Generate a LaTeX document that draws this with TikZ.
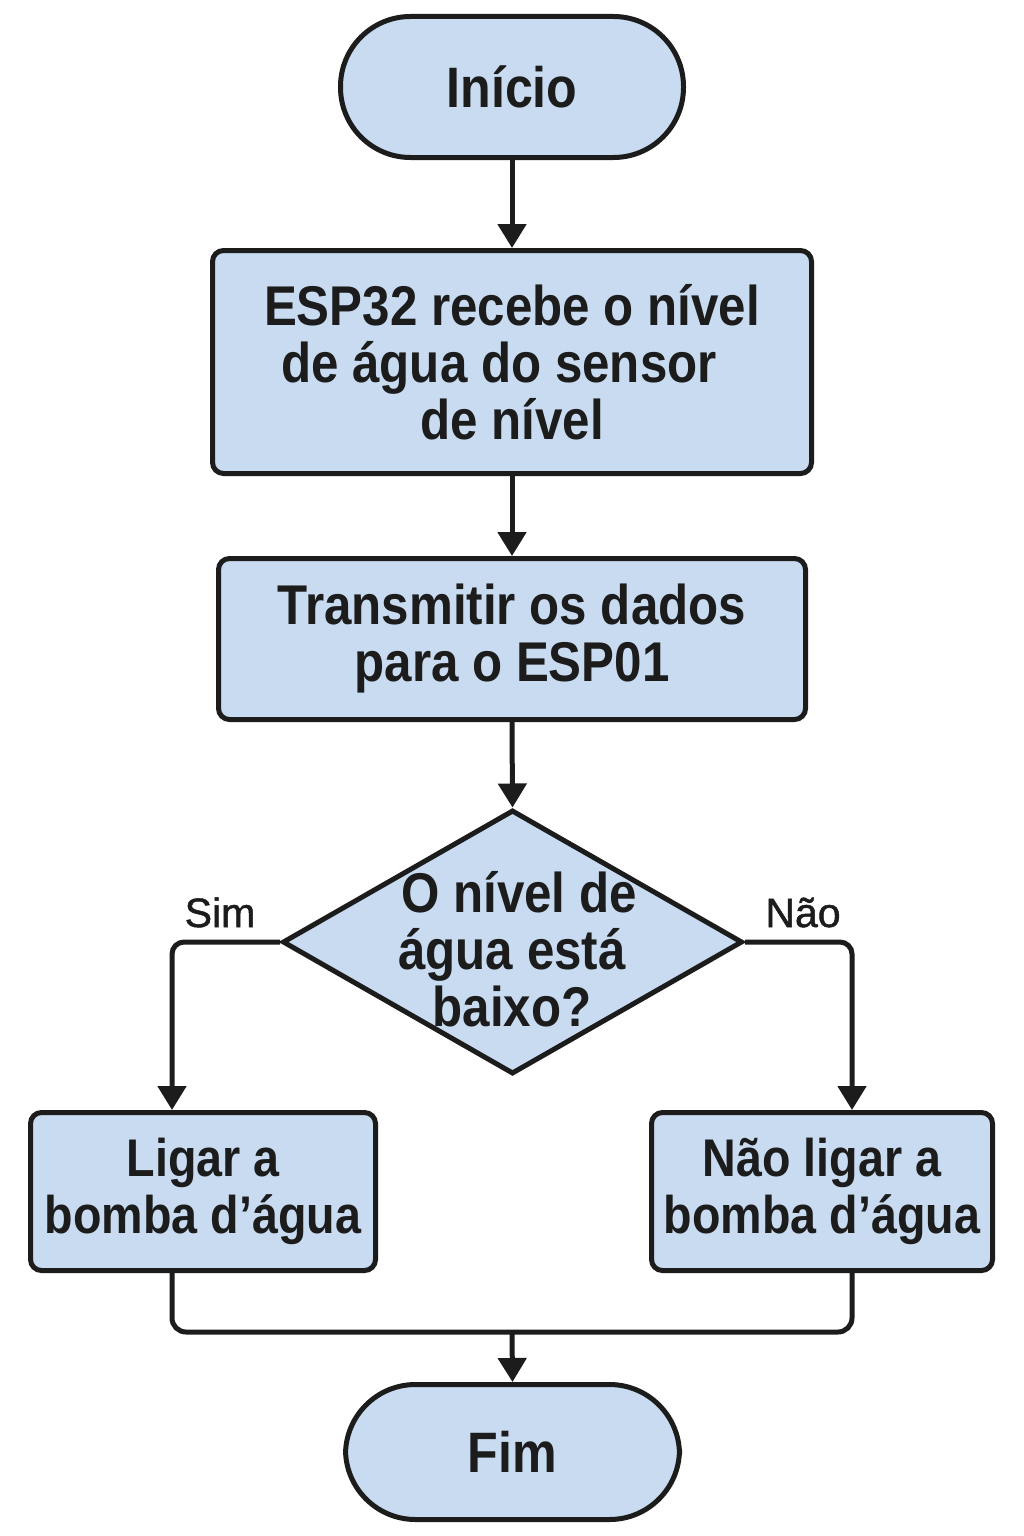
\documentclass[tikz,border=0pt]{standalone}
\usepackage{fontspec}
\setmainfont{Liberation Sans}
\newfontfamily\boxfont{Liberation Sans}[FakeStretch=0.88]
\newfontfamily\lblfont{Liberation Sans}[FakeBold=1.2]
\usetikzlibrary{arrows.meta,shapes.geometric}
\definecolor{boxfill}{HTML}{C8DBF0}
\definecolor{ink}{HTML}{1C1C1C}
\begin{document}
\begin{tikzpicture}[x=1pt,y=-1pt,
  base/.style={draw=ink, line width=5pt, fill=boxfill, text=ink, align=center, inner sep=0pt},
  term/.style={base, rounded corners=70pt, font=\boxfont\bfseries\fontsize{57}{57}\selectfont},
  proc/.style={base, rounded corners=11pt, font=\boxfont\bfseries\fontsize{56}{57}\selectfont},
  small/.style={base, rounded corners=11pt, font=\boxfont\bfseries\fontsize{53}{57}\selectfont},
  dtext/.style={text=ink, align=center, inner sep=0pt, font=\boxfont\bfseries\fontsize{56}{57}\selectfont},
  line/.style={draw=ink, line width=5pt},
  conn/.style={line, -{Triangle[width=28pt,length=24pt]}},
  lbl/.style={text=ink, inner sep=0pt, font=\lblfont\fontsize{41}{41}\selectfont}]
\useasboundingbox[fill=white] (0,0) rectangle (1024,1536);

\node[term, minimum width=343pt, minimum height=141pt] (start) at (512,87) {Início};
\node[proc, minimum width=599pt, minimum height=223pt] (p1) at (512,362)
  {ESP32 recebe o nível\\de água do sensor\makebox[26pt]{}\\de nível};
\node[proc, minimum width=587pt, minimum height=161pt] (p2) at (512,639)
  {Transmitir os dados\\para o ESP01};
\node[base, shape=diamond, minimum width=460pt, minimum height=264pt] (dec) at (512.5,942) {};
\node[dtext] (dect) at (512,949) {\makebox[14pt]{}O nível de\\água está\\baixo?};
\node[small, minimum width=345pt, minimum height=158pt] (yes) at (203,1191.5)
  {Ligar a\\bomba d’água};
\node[small, minimum width=341pt, minimum height=158pt] (no) at (822,1191.5)
  {Não ligar a\\bomba d’água};
\node[term, minimum width=334pt, minimum height=135pt] (fim) at (512.5,1452) {Fim};

\node[lbl, anchor=base] (sim) at (220,927) {Sim};
\node[lbl, anchor=base] (nao) at (803,927) {Não};

\coordinate (join) at (512,1332);

\draw[conn] (start.south) -- (p1.north);
\draw[conn] (p1.south) -- (p2.north);
\draw[conn] (p2.south) -- (dec.north);
\draw[conn, rounded corners=12pt] (dec.west) -| ([xshift=-31pt]yes.north);
\draw[conn, rounded corners=12pt] (dec.east) -| ([xshift=30pt]no.north);
\draw[line, rounded corners=14pt] ([xshift=-31pt]yes.south) |- (join) -| ([xshift=30pt]no.south);
\draw[conn] (join) -- (fim.north);
\end{tikzpicture}
\end{document}
